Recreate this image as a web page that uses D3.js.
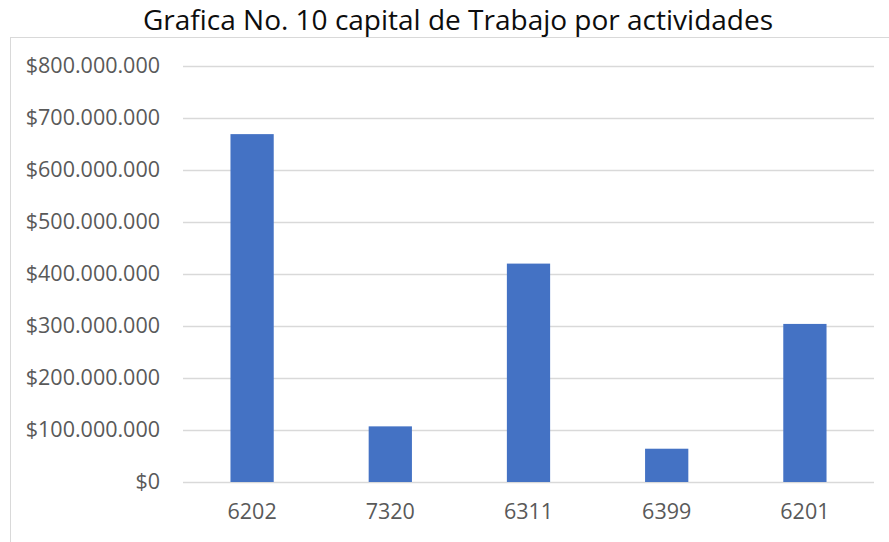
<!DOCTYPE html>
<html>
<head>
<meta charset="utf-8">
<script src="https://cdn.jsdelivr.net/npm/d3@7"></script>
<style>
  body { margin: 0; background: #fff; }
  svg { display: block; font-family: "Open Sans", sans-serif; }
</style>
</head>
<body>
<script>
const chartTitle = 'Grafica No. 10 capital de Trabajo por actividades';
const categories = ['6202', '7320', '6311', '6399', '6201'];
const values = [669000000, 107000000, 420000000, 64000000, 304000000];
const yTicks = [0, 100000000, 200000000, 300000000, 400000000, 500000000, 600000000, 700000000, 800000000];

const svgWidth = 889;
const svgHeight = 542;
const plotLeft = 183;
const plotRight = 874;
const plotTop = 66;
const plotBottom = 482;

const locale = d3.formatLocale({
  decimal: ',',
  thousands: '.',
  grouping: [3],
  currency: ['$', '']
});
const formatMoney = locale.format('$,.0f');

const svg = d3.select('body')
              .append('svg')
              .attr('width', svgWidth)
              .attr('height', svgHeight);

// chart frame
svg.append('rect')
   .attr('x', 10.5)
   .attr('y', 37.5)
   .attr('width', 1000)
   .attr('height', 1000)
   .attr('fill', 'none')
   .attr('stroke', '#d9d9d9');

svg.append('text')
   .attr('x', 458)
   .attr('y', 30)
   .attr('text-anchor', 'middle')
   .attr('font-size', 28)
   .attr('fill', '#0d0d0d')
   .text(chartTitle);

// scales
const xScale = d3.scaleBand()
                 .domain(categories)
                 .range([plotLeft, plotRight])
                 .paddingInner(0.687)
                 .paddingOuter(0.3435);

const yScale = d3.scaleLinear()
                 .domain([0, 800000000])
                 .range([plotBottom, plotTop]);

// y axis with gridlines
const yAxis = d3.axisLeft(yScale)
                .tickValues(yTicks)
                .tickSize(-(plotRight - plotLeft))
                .tickPadding(23)
                .tickFormat(formatMoney);

const yG = svg.append('g')
              .attr('transform', 'translate(' + plotLeft + ',0)')
              .call(yAxis);
yG.select('.domain').remove();
yG.selectAll('.tick line')
  .attr('stroke', '#d9d9d9')
  .attr('stroke-width', 1.3);
yG.selectAll('.tick text')
  .attr('font-size', 21.5)
  .attr('fill', '#595959')
  .attr('font-family', '"Open Sans", sans-serif');

// bars
svg.selectAll('rect.bar')
   .data(values)
   .enter()
   .append('rect')
   .attr('class', 'bar')
   .attr('x', (d, i) => xScale(categories[i]))
   .attr('y', (d) => yScale(d))
   .attr('width', xScale.bandwidth())
   .attr('height', (d) => yScale(0) - yScale(d))
   .attr('fill', '#4472c4');

// x axis
const xAxis = d3.axisBottom(xScale).tickSize(0);
const xG = svg.append('g')
              .attr('transform', 'translate(0,' + plotBottom + ')')
              .call(xAxis);
xG.select('.domain').remove();
xG.selectAll('.tick text')
  .attr('y', 37)
  .attr('dy', 0)
  .attr('font-size', 21.5)
  .attr('fill', '#595959')
  .attr('font-family', '"Open Sans", sans-serif');
</script>
</body>
</html>
